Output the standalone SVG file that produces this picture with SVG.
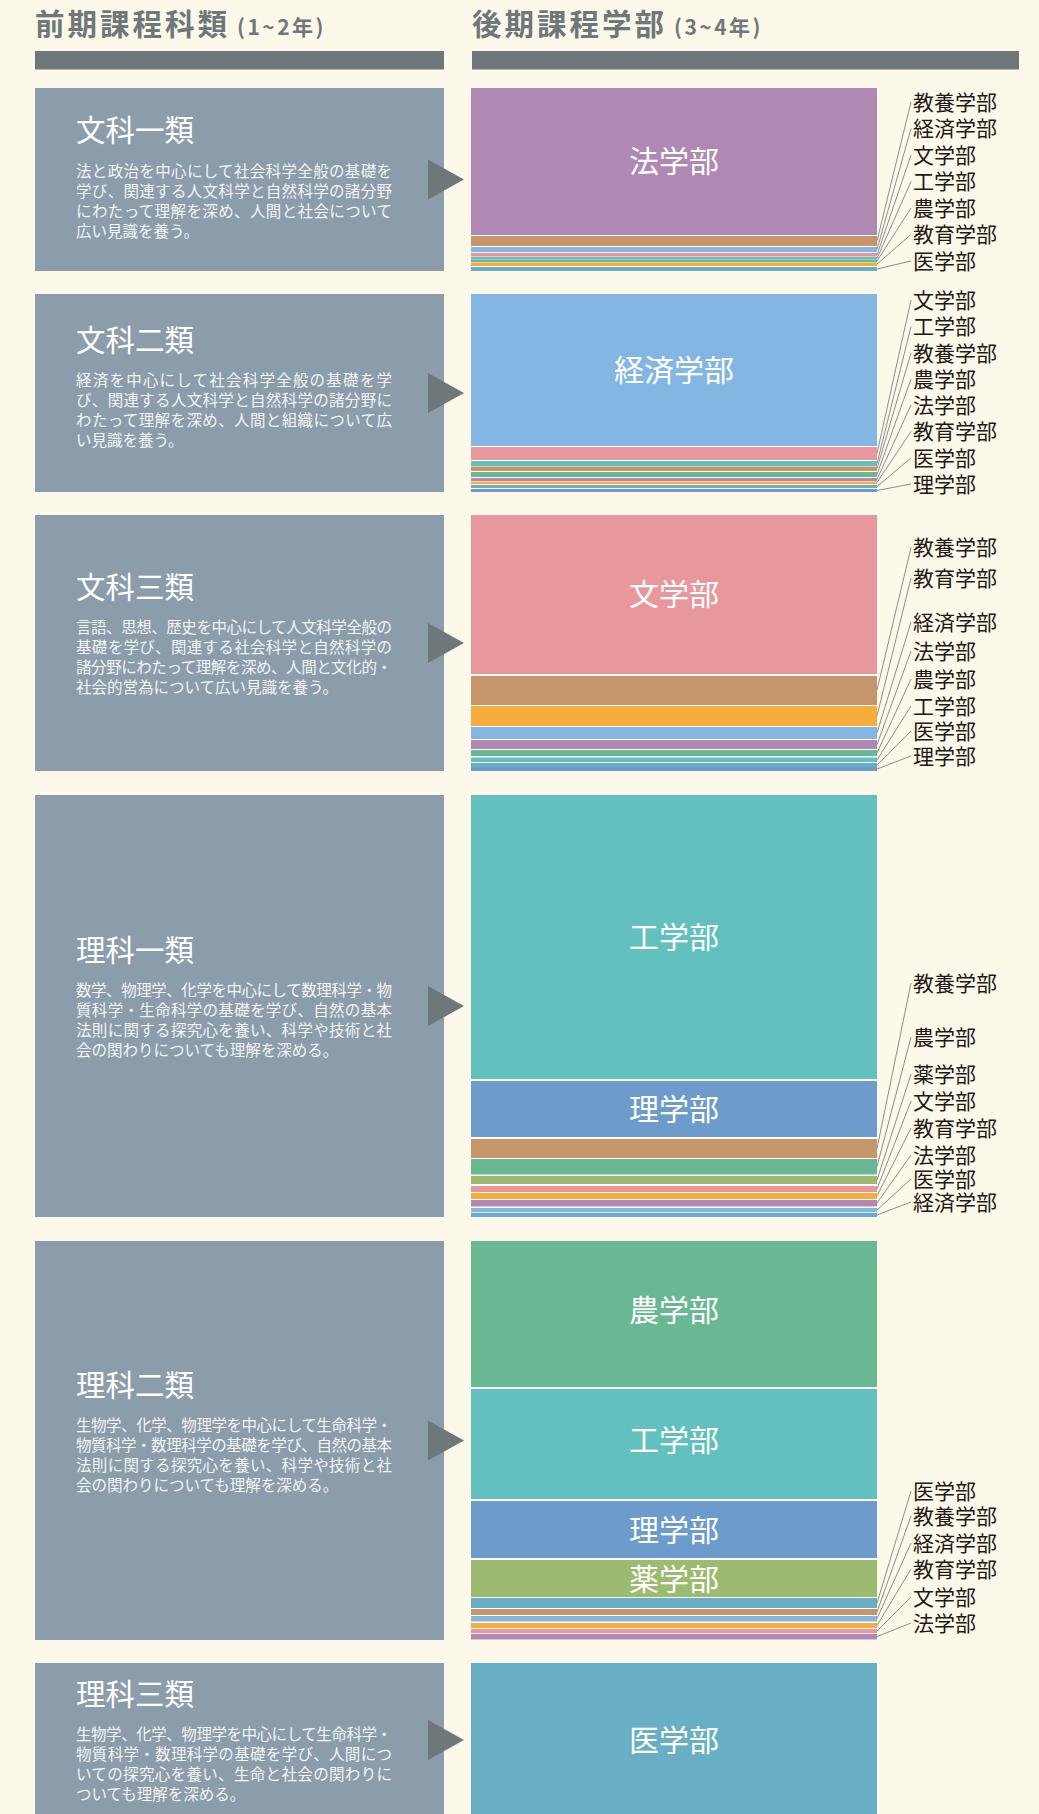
<svg xmlns="http://www.w3.org/2000/svg" width="1039" height="1814" viewBox="0 0 1039 1814">
<style>
text{font-family:"Noto Sans CJK JP","Noto Sans CJK SC",sans-serif}
.hd{font-size:29.5px;font-weight:700;fill:#6e7779;letter-spacing:3px}
.hs{font-size:21px;letter-spacing:2.5px}
.bar{fill:#6e7779}
.lbox{fill:#8b9dab}
.arr{fill:#6e7779}
.tt{font-size:29.5px;fill:#fff}
.bd{font-size:15.5px;fill:#f4f4f4}
.big{font-size:30px;fill:#fff;text-anchor:middle}
.lab{font-size:21px;fill:#231815}
.ld{stroke:#7d8284;stroke-width:0.9;fill:none}
.col{fill:#fff}
.c-ho{fill:#b088b4}.c-kz{fill:#84b6e4}.c-bun{fill:#e8989c}.c-ko{fill:#62c1be}
.c-ri{fill:#6d9bcc}.c-no{fill:#6ab893}.c-ya{fill:#9dbb70}.c-i{fill:#68afc6}
.c-ky{fill:#c6956a}.c-ik{fill:#f6ad3c}
</style>
<rect width="1039" height="1814" fill="#fcf8ea"/>

<g id="header">
<text class="hd" x="35" y="35">前期課程科類<tspan class="hs" dx="7">(1~2年)</tspan></text>
<text class="hd" x="472" y="35">後期課程学部<tspan class="hs" dx="7">(3~4年)</tspan></text>
<rect class="bar" x="35" y="51" width="409" height="18.5"/>
<rect class="bar" x="472" y="51" width="547" height="18.5"/>
</g>

<!-- 文科一類 -->
<g id="bunka1">
<rect class="lbox" x="35" y="88" width="409" height="183"/>
<text class="tt" x="76" y="141">文科一類</text>
<text class="bd" x="76" y="176.5" textLength="316" lengthAdjust="spacing">法と政治を中心にして社会科学全般の基礎を</text>
<text class="bd" x="76" y="196.5" textLength="316" lengthAdjust="spacing">学び、関連する人文科学と自然科学の諸分野</text>
<text class="bd" x="76" y="216.5" textLength="316" lengthAdjust="spacing">にわたって理解を深め、人間と社会について</text>
<text class="bd" x="76" y="236.5">広い見識を養う。</text>
<polygon class="arr" points="428,159.5 464,179.5 428,199.5"/>
</g>
<g id="dest1">
<rect class="col" x="471" y="88" width="406" height="183"/>
<rect class="c-ho" x="471" y="88" width="406" height="147"/>
<rect class="c-ky" x="471" y="236" width="406" height="10"/>
<rect class="c-kz" x="471" y="247" width="406" height="5.2"/>
<rect class="c-bun" x="471" y="253" width="406" height="3.6"/>
<rect class="c-ko" x="471" y="257" width="406" height="2.7"/>
<rect class="c-no" x="471" y="260" width="406" height="2.2"/>
<rect class="c-ik" x="471" y="262.5" width="406" height="3.5"/>
<rect class="c-i" x="471" y="267" width="406" height="4"/>
<text class="big" x="674" y="172">法学部</text>
<text class="lab" x="913" y="109.5">教養学部</text>
<text class="lab" x="913" y="136">経済学部</text>
<text class="lab" x="913" y="162.5">文学部</text>
<text class="lab" x="913" y="189">工学部</text>
<text class="lab" x="913" y="215.5">農学部</text>
<text class="lab" x="913" y="242">教育学部</text>
<text class="lab" x="913" y="268.5">医学部</text>
</g>

<!-- 文科二類 -->
<g id="bunka2">
<rect class="lbox" x="35" y="294" width="409" height="198"/>
<text class="tt" x="76" y="351">文科二類</text>
<text class="bd" x="76" y="386" textLength="316" lengthAdjust="spacing">経済を中心にして社会科学全般の基礎を学</text>
<text class="bd" x="76" y="406" textLength="316" lengthAdjust="spacing">び、関連する人文科学と自然科学の諸分野に</text>
<text class="bd" x="76" y="426" textLength="316" lengthAdjust="spacing">わたって理解を深め、人間と組織について広</text>
<text class="bd" x="76" y="446">い見識を養う。</text>
<polygon class="arr" points="428,373 464,393 428,413"/>
</g>
<g id="dest2">
<rect class="col" x="471" y="294" width="406" height="198"/>
<rect class="c-kz" x="471" y="294" width="406" height="152"/>
<rect class="c-bun" x="471" y="447" width="406" height="13"/>
<rect class="c-ko" x="471" y="461" width="406" height="5"/>
<rect class="c-ky" x="471" y="466.5" width="406" height="4.5"/>
<rect class="c-no" x="471" y="472" width="406" height="5"/>
<rect class="c-ho" x="471" y="478" width="406" height="3"/>
<rect class="c-ik" x="471" y="481.5" width="406" height="2.7"/>
<rect class="c-i" x="471" y="485" width="406" height="3"/>
<rect class="c-ri" x="471" y="489" width="406" height="3"/>
<text class="big" x="674" y="380.5">経済学部</text>
<text class="lab" x="913" y="307.5">文学部</text>
<text class="lab" x="913" y="334">工学部</text>
<text class="lab" x="913" y="360.5">教養学部</text>
<text class="lab" x="913" y="386.5">農学部</text>
<text class="lab" x="913" y="412.5">法学部</text>
<text class="lab" x="913" y="439">教育学部</text>
<text class="lab" x="913" y="465.5">医学部</text>
<text class="lab" x="913" y="491.5">理学部</text>
</g>

<!-- 文科三類 -->
<g id="bunka3">
<rect class="lbox" x="35" y="515" width="409" height="256"/>
<text class="tt" x="76" y="598">文科三類</text>
<text class="bd" x="76" y="633" textLength="316" lengthAdjust="spacing">言語、思想、歴史を中心にして人文科学全般の</text>
<text class="bd" x="76" y="653" textLength="316" lengthAdjust="spacing">基礎を学び、関連する社会科学と自然科学の</text>
<text class="bd" x="76" y="673" textLength="316" lengthAdjust="spacing">諸分野にわたって理解を深め、人間と文化的・</text>
<text class="bd" x="76" y="693">社会的営為について広い見識を養う。</text>
<polygon class="arr" points="428,623 464,643 428,663"/>
</g>
<g id="dest3">
<rect class="col" x="471" y="515" width="406" height="256"/>
<rect class="c-bun" x="471" y="515" width="406" height="159"/>
<rect class="c-ky" x="471" y="676" width="406" height="29"/>
<rect class="c-ik" x="471" y="706" width="406" height="20"/>
<rect class="c-kz" x="471" y="727" width="406" height="12"/>
<rect class="c-ho" x="471" y="740" width="406" height="9"/>
<rect class="c-no" x="471" y="750" width="406" height="6"/>
<rect class="c-ko" x="471" y="757.5" width="406" height="4.5"/>
<rect class="c-i" x="471" y="763" width="406" height="4"/>
<rect class="c-ri" x="471" y="767" width="406" height="4"/>
<text class="big" x="674" y="605">文学部</text>
<text class="lab" x="913" y="555">教養学部</text>
<text class="lab" x="913" y="585.5">教育学部</text>
<text class="lab" x="913" y="629.5">経済学部</text>
<text class="lab" x="913" y="658.5">法学部</text>
<text class="lab" x="913" y="686.5">農学部</text>
<text class="lab" x="913" y="713.5">工学部</text>
<text class="lab" x="913" y="738.5">医学部</text>
<text class="lab" x="913" y="763.5">理学部</text>
</g>

<!-- 理科一類 -->
<g id="rika1">
<rect class="lbox" x="35" y="795" width="409" height="422"/>
<text class="tt" x="76" y="960.5">理科一類</text>
<text class="bd" x="76" y="995.5" textLength="316" lengthAdjust="spacing">数学、物理学、化学を中心にして数理科学・物</text>
<text class="bd" x="76" y="1015.5" textLength="316" lengthAdjust="spacing">質科学・生命科学の基礎を学び、自然の基本</text>
<text class="bd" x="76" y="1035.5" textLength="316" lengthAdjust="spacing">法則に関する探究心を養い、科学や技術と社</text>
<text class="bd" x="76" y="1055.5">会の関わりについても理解を深める。</text>
<polygon class="arr" points="428,986 464,1006 428,1026"/>
</g>
<g id="dest4">
<rect class="col" x="471" y="795" width="406" height="422"/>
<rect class="c-ko" x="471" y="795" width="406" height="284"/>
<rect class="c-ri" x="471" y="1081" width="406" height="56"/>
<rect class="c-ky" x="471" y="1139" width="406" height="19"/>
<rect class="c-no" x="471" y="1159" width="406" height="15.5"/>
<rect class="c-ya" x="471" y="1176" width="406" height="8"/>
<rect class="c-bun" x="471" y="1186" width="406" height="6"/>
<rect class="c-ik" x="471" y="1193" width="406" height="6"/>
<rect class="c-ho" x="471" y="1200" width="406" height="6.5"/>
<rect class="c-kz" x="471" y="1208" width="406" height="4.3"/>
<rect class="c-i" x="471" y="1213" width="406" height="4"/>
<text class="big" x="674" y="948">工学部</text>
<text class="big" x="674" y="1120">理学部</text>
<text class="lab" x="913" y="990.5">教養学部</text>
<text class="lab" x="913" y="1044.5">農学部</text>
<text class="lab" x="913" y="1081.5">薬学部</text>
<text class="lab" x="913" y="1108.5">文学部</text>
<text class="lab" x="913" y="1135.5">教育学部</text>
<text class="lab" x="913" y="1162.5">法学部</text>
<text class="lab" x="913" y="1186.5">医学部</text>
<text class="lab" x="913" y="1209.5">経済学部</text>
</g>

<!-- 理科二類 -->
<g id="rika2">
<rect class="lbox" x="35" y="1241" width="409" height="399"/>
<text class="tt" x="76" y="1396">理科二類</text>
<text class="bd" x="76" y="1431" textLength="316" lengthAdjust="spacing">生物学、化学、物理学を中心にして生命科学・</text>
<text class="bd" x="76" y="1451" textLength="316" lengthAdjust="spacing">物質科学・数理科学の基礎を学び、自然の基本</text>
<text class="bd" x="76" y="1471" textLength="316" lengthAdjust="spacing">法則に関する探究心を養い、科学や技術と社</text>
<text class="bd" x="76" y="1491">会の関わりについても理解を深める。</text>
<polygon class="arr" points="428,1420.5 464,1440.5 428,1460.5"/>
</g>
<g id="dest5">
<rect class="col" x="471" y="1241" width="406" height="399"/>
<rect class="c-no" x="471" y="1241" width="406" height="146"/>
<rect class="c-ko" x="471" y="1389" width="406" height="110"/>
<rect class="c-ri" x="471" y="1501" width="406" height="57"/>
<rect class="c-ya" x="471" y="1560" width="406" height="37"/>
<rect class="c-i" x="471" y="1598" width="406" height="10"/>
<rect class="c-ky" x="471" y="1609" width="406" height="6"/>
<rect class="c-kz" x="471" y="1616" width="406" height="5.5"/>
<rect class="c-ik" x="471" y="1623" width="406" height="5"/>
<rect class="c-bun" x="471" y="1629" width="406" height="4.3"/>
<rect class="c-ho" x="471" y="1634" width="406" height="5.5"/>
<text class="big" x="674" y="1320.5">農学部</text>
<text class="big" x="674" y="1450.5">工学部</text>
<text class="big" x="674" y="1540.5">理学部</text>
<text class="big" x="674" y="1590">薬学部</text>
<text class="lab" x="913" y="1498.5">医学部</text>
<text class="lab" x="913" y="1523.5">教養学部</text>
<text class="lab" x="913" y="1550.5">経済学部</text>
<text class="lab" x="913" y="1576.5">教育学部</text>
<text class="lab" x="913" y="1604.5">文学部</text>
<text class="lab" x="913" y="1630.5">法学部</text>
</g>

<!-- 理科三類 -->
<g id="rika3">
<rect class="lbox" x="35" y="1663" width="409" height="160"/>
<text class="tt" x="76" y="1705">理科三類</text>
<text class="bd" x="76" y="1740" textLength="316" lengthAdjust="spacing">生物学、化学、物理学を中心にして生命科学・</text>
<text class="bd" x="76" y="1760" textLength="316" lengthAdjust="spacing">物質科学・数理科学の基礎を学び、人間につ</text>
<text class="bd" x="76" y="1780" textLength="316" lengthAdjust="spacing">いての探究心を養い、生命と社会の関わりに</text>
<text class="bd" x="76" y="1800">ついても理解を深める。</text>
<polygon class="arr" points="428,1720 464,1740 428,1760"/>
</g>
<g id="dest6">
<rect class="c-i" x="471" y="1663" width="406" height="160"/>
<text class="big" x="674" y="1751">医学部</text>
</g>

<g id="connectors">
<path class="ld" d="M911,102 L877,241 M911,128.5 L877,249.5 M911,155 L877,255 M911,181.5 L877,258.5 M911,208 L877,261 M911,234.5 L877,264 M911,261 L877,269"/>
<path class="ld" d="M911,300 L877,453.5 M911,326.5 L877,463.5 M911,353 L877,468.5 M911,379 L877,474.5 M911,405 L877,479.5 M911,431.5 L877,482.5 M911,458 L877,486.5 M911,484 L877,490.5"/>
<path class="ld" d="M911,547.5 L877,690 M911,578 L877,716 M911,622 L877,733 M911,651 L877,744.5 M911,679 L877,753 M911,706 L877,760 M911,731 L877,765 M911,756 L877,769"/>
<path class="ld" d="M911,983 L877,1148.5 M911,1037 L877,1166.5 M911,1074 L877,1180 M911,1101 L877,1189 M911,1128 L877,1196 M911,1155 L877,1203 M911,1179 L877,1210 M911,1202 L877,1215"/>
<path class="ld" d="M911,1491 L877,1603 M911,1516 L877,1612 M911,1543 L877,1618.5 M911,1569 L877,1625.5 M911,1597 L877,1631 M911,1623 L877,1636.5"/>
</g>
</svg>
